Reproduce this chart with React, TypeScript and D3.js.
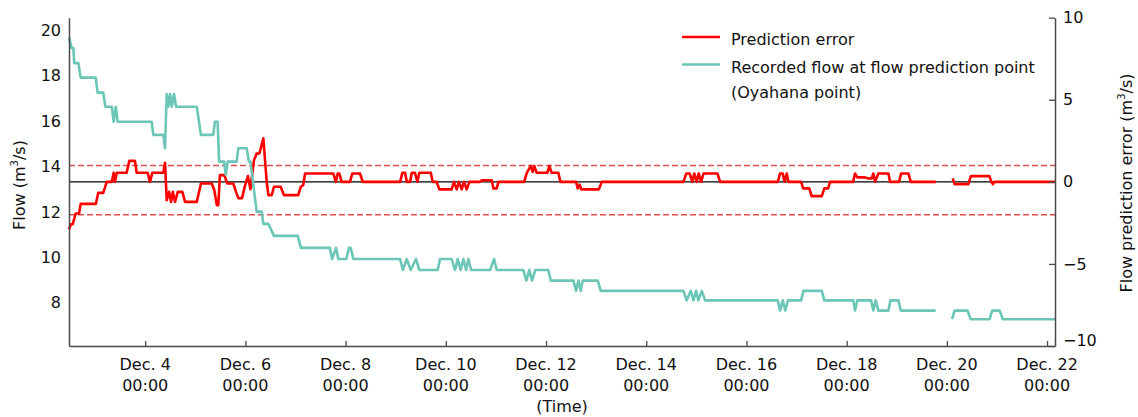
import { useEffect, useRef } from "react";
import * as d3 from "d3";

// hours counted from the first record (Dec. 2, about 11:30)
const flowHours = [
  0, 1.3, 2.1, 2.5, 4.5, 5.6, 12.8, 13.7, 16.4, 17.4, 20.5, 21.4, 22.4, 23.3,
  39.6, 40.4, 45.2, 46.0, 46.8, 47.6, 48.4, 49.2, 50.3, 51.3, 61.2, 63.2, 69.1,
  69.9, 71.2, 71.9, 74.3, 75.1, 76.0, 80.3, 81.1, 85.1, 86.2, 86.9, 89.9, 92.3,
  93.1, 95.5, 98.2, 109.6, 111.1, 125.0, 126.0, 127.9, 129.0, 132.8, 134.1,
  134.9, 136.2, 158.6, 159.9, 161.8, 163.7, 166.2, 167.8, 176.6, 177.7, 183.3,
  184.9, 186.2, 187.6, 188.9, 190.2, 191.3, 192.6, 201.7, 203.6, 204.9, 217.6,
  219.1, 220.5, 221.8, 223.4, 229.6, 230.8, 241.6, 242.9, 244.0, 245.1, 246.1,
  253.3, 254.7, 294.3, 295.9, 297.8, 299.1, 300.4, 301.5, 303.1, 304.7, 339.5,
  340.6, 341.9, 343.1, 344.4, 350.7, 351.8, 360.6, 361.8, 375.7, 376.5, 377.6,
  384.2, 385.3, 386.4, 387.7, 392.5, 393.5, 397.3, 398.4, 415.1, 419, 423.0,
  424.2, 430.4, 431.9, 441.0, 442.2, 445.8, 447.3, 472.3,
];
const flowValues = [
  19.68, 19.22, 19.22, 18.56, 18.56, 17.92, 17.92, 17.26, 17.26, 16.64, 16.64,
  15.98, 16.64, 15.98, 15.98, 15.4, 15.4, 14.81, 17.2, 16.64, 17.2, 16.64, 17.2,
  16.64, 16.64, 15.4, 15.4, 15.98, 15.98, 14.22, 14.22, 13.64, 14.22, 14.22,
  14.81, 14.81, 14.22, 14.22, 12.02, 12.02, 11.48, 11.48, 10.95, 10.95, 10.42,
  10.42, 9.93, 10.42, 9.93, 9.93, 10.42, 10.42, 9.93, 9.93, 9.45, 9.93, 9.45,
  9.93, 9.45, 9.45, 9.93, 9.93, 9.45, 9.93, 9.45, 9.93, 9.45, 9.93, 9.45, 9.45,
  9.93, 9.45, 9.45, 8.98, 9.45, 8.98, 9.45, 9.45, 8.98, 8.98, 8.53, 8.98, 8.53,
  8.98, 8.98, 8.53, 8.53, 8.11, 8.53, 8.11, 8.53, 8.11, 8.53, 8.11, 8.11, 7.66,
  8.11, 7.66, 8.11, 8.11, 8.53, 8.53, 8.11, 8.11, 7.66, 8.11, 8.11, 7.66, 8.11,
  7.66, 7.66, 8.11, 8.11, 7.66, 7.66, NaN, 7.28, 7.66, 7.66, 7.28, 7.28, 7.66,
  7.66, 7.28, 7.28,
];

const errorHours = [
  0, 0.9, 1.8, 3.2, 4.8, 5.6, 12.9, 14.0, 16.4, 18.1, 20.5, 21.4, 22.0, 22.9,
  27.6, 28.9, 31.6, 32.4, 37.7, 38.8, 39.9, 45.2, 46.0, 46.8, 47.9, 48.9, 49.7,
  50.8, 52.1, 54.3, 55.6, 61.2, 63.2, 68.4, 69.6, 70.8, 71.5, 72.3, 74.4, 75.8,
  78.7, 80.0, 81.1, 82.9, 84.1, 85.7, 86.9, 88.6, 89.9, 91.2, 93.1, 94.7, 95.5,
  97.1, 98.2, 101.4, 103.0, 109.8, 111.0, 112.2, 113.1, 126.6, 127.8, 128.7,
  129.5, 130.6, 134.6, 135.7, 139.4, 140.7, 158.6, 159.7, 161.0, 161.8, 163.4,
  164.2, 165.7, 166.9, 167.8, 173.3, 174.2, 176.1, 177.4, 183.3, 184.4, 185.7,
  186.8, 188.1, 189.2, 190.5, 191.8, 196.9, 197.7, 202.5, 203.3, 204.9, 205.7,
  218.0, 219.3, 220.5, 221.2, 222.1, 222.9, 224.0, 229.1, 230.1, 231.2, 234.4,
  235.4, 242.9, 243.7, 244.6, 245.4, 253.8, 255.2, 294.3, 295.7, 297.3, 298.6,
  299.5, 300.7, 301.6, 302.8, 303.9, 310.6, 311.9, 339.5, 340.6, 341.9, 342.7,
  343.8, 344.6, 350.7, 351.7, 354.6, 355.7, 360.6, 361.8, 363.6, 364.6, 375.6,
  376.5, 377.6, 381.3, 382.9, 384.5, 385.3, 386.1, 387.7, 392.5, 393.3, 397.6,
  398.6, 402.1, 403.2, 415.2, 419, 423.3, 424.2, 430.8, 432.0, 440.9, 441.8,
  442.6, 443.3, 472.3,
];
const errorValues = [
  -2.9, -2.58, -2.58, -1.93, -1.93, -1.34, -1.34, -0.67, -0.67, 0, 0, 0.55, 0,
  0.55, 0.55, 1.28, 1.28, 0.55, 0.55, 0, 0.55, 0.55, 1.16, -1.12, -0.61, -1.22,
  -0.61, -1.22, -0.61, -0.61, -1.22, -1.22, -0.1, -0.1, -0.51, -1.42, -1.42,
  0.41, 0.41, -0.1, -0.1, -0.61, -0.99, -0.99, -0.32, 0.35, -0.45, 1.32, 1.73,
  1.73, 2.65, 0, -0.81, -0.81, -0.3, -0.3, -0.81, -0.81, -0.3, -0.2, 0.51,
  0.51, 0, 0.51, 0.51, 0, 0, 0.51, 0.51, 0, 0, 0.55, 0.55, 0, 0, 0.55, 0.55, 0,
  0.55, 0.55, 0, 0, -0.46, -0.46, 0, -0.46, 0, -0.46, 0, -0.46, 0, 0, 0.1, 0.1,
  -0.4, -0.4, 0, 0, 0.55, 0.82, 0.96, 0.61, 0.96, 0.55, 0.55, 0.96, 0.55, 0.55,
  0, 0, -0.4, -0.17, -0.46, -0.46, 0, 0, 0.51, 0.51, 0, 0.51, 0, 0.51, 0, 0.51,
  0.51, 0, 0, 0.51, 0.51, 0, 0.51, 0, 0, -0.4, -0.4, -0.87, -0.87, -0.4, -0.4,
  0, 0, 0.51, 0.27, 0.27, 0.21, 0.21, 0.51, 0, 0.51, 0.51, 0, 0, 0.51, 0.51, 0,
  0, NaN, 0.21, -0.14, -0.14, 0.35, 0.35, 0, -0.14, 0, 0,
];

const tickDays = [4, 6, 8, 10, 12, 14, 16, 18, 20, 22];
const flowTicks = [8, 10, 12, 14, 16, 18, 20];
const errorTicks = [-10, -5, 0, 5, 10];
const errorLimits = [1, -2];

const RED = "#ff0000";
const TEAL = "#6cc6b8";
const FONT = "DejaVu Sans, sans-serif";

interface Pt {
  t: Date;
  v: number;
}

export default function App() {
  const svgRef = useRef<SVGSVGElement>(null);

  useEffect(() => {
    if (!svgRef.current) return;
    const svg = d3.select(svgRef.current);
    svg.selectAll("*").remove();

    const width = 1138;
    const height = 417;
    const margin = { top: 17.7, right: 83, bottom: 71, left: 69 };
    const chartW = width - margin.left - margin.right;
    const chartH = height - margin.top - margin.bottom;

    const t0 = new Date(2019, 11, 2, 11, 30).getTime();
    const toDate = (h: number) => new Date(t0 + h * 3600e3);

    const x = d3.scaleTime().domain([toDate(0), toDate(472.3)]).range([0, chartW]);
    const yFlow = d3.scaleLinear().domain([6.1, 20.56]).range([chartH, 0]);
    const yErr = d3.scaleLinear().domain([-10, 10]).range([chartH, 0]);

    const flow: Pt[] = flowHours.map((h, i) => ({ t: toDate(h), v: flowValues[i] }));
    const err: Pt[] = errorHours.map((h, i) => ({ t: toDate(h), v: errorValues[i] }));

    const g = svg
      .append("g")
      .attr("transform", `translate(${margin.left},${margin.top})`);

    // zero line and limits
    g.append("line")
      .attr("x1", 0)
      .attr("x2", chartW)
      .attr("y1", yErr(0))
      .attr("y2", yErr(0))
      .attr("stroke", "#000")
      .attr("stroke-width", 1.3);

    g.selectAll(".limit")
      .data(errorLimits)
      .join("line")
      .attr("x1", 0)
      .attr("x2", chartW)
      .attr("y1", (d) => yErr(d))
      .attr("y2", (d) => yErr(d))
      .attr("stroke", "#e04f4f")
      .attr("stroke-width", 1.5)
      .attr("stroke-dasharray", "6 3");

    const errLine = d3
      .line<Pt>()
      .defined((d) => !isNaN(d.v))
      .x((d) => x(d.t))
      .y((d) => yErr(d.v));

    const flowLine = d3
      .line<Pt>()
      .defined((d) => !isNaN(d.v))
      .x((d) => x(d.t))
      .y((d) => yFlow(d.v));

    g.append("path")
      .datum(err)
      .attr("d", errLine)
      .attr("fill", "none")
      .attr("stroke", RED)
      .attr("stroke-width", 2.6)
      .attr("stroke-linejoin", "round");

    g.append("path")
      .datum(flow)
      .attr("d", flowLine)
      .attr("fill", "none")
      .attr("stroke", TEAL)
      .attr("stroke-width", 2.6)
      .attr("stroke-linejoin", "round");

    const styleAxis = (a: d3.Selection<SVGGElement, unknown, null, undefined>) =>
      a
        .attr("color", "#4a4a4a")
        .attr("font-family", FONT)
        .attr("font-size", 16)
        .call((s) => s.select(".domain").attr("stroke-width", 1.5))
        .call((s) => s.selectAll(".tick line").attr("stroke-width", 1.3))
        .call((s) => s.selectAll(".tick text").attr("fill", "#111"));

    // X axis
    const tickDates = tickDays.map((d) => new Date(2019, 11, d));
    g.append("g")
      .attr("transform", `translate(0,${chartH})`)
      .call(
        d3
          .axisBottom(x)
          .tickValues(tickDates)
          .tickSizeInner(-5)
          .tickSizeOuter(0)
          .tickFormat(() => ""),
      )
      .call(styleAxis);

    const xl = g
      .append("g")
      .attr("font-family", FONT)
      .attr("font-size", 16)
      .attr("fill", "#111")
      .attr("text-anchor", "middle")
      .selectAll("text")
      .data(tickDays)
      .join("text")
      .attr("x", (d) => x(new Date(2019, 11, d)));
    xl.append("tspan")
      .attr("y", chartH + 24.5)
      .text((d) => `Dec. ${d}`);
    xl.append("tspan")
      .attr("x", (d) => x(new Date(2019, 11, d)))
      .attr("y", chartH + 45)
      .text("00:00");

    g.append("text")
      .attr("x", chartW / 2)
      .attr("y", chartH + 66)
      .attr("text-anchor", "middle")
      .attr("font-family", FONT)
      .attr("font-size", 16)
      .attr("fill", "#111")
      .text("(Time)");

    // Left axis
    g.append("g")
      .call(d3.axisLeft(yFlow).tickValues(flowTicks).tickSize(0).tickPadding(8))
      .call(styleAxis);

    // Right axis
    g.append("g")
      .attr("transform", `translate(${chartW},0)`)
      .call(
        d3
          .axisRight(yErr)
          .tickValues(errorTicks)
          .tickSizeInner(-6)
          .tickSizeOuter(0)
          .tickPadding(8),
      )
      .call(styleAxis)
      .call((s) =>
        s
          .selectAll<SVGTextElement, number>(".tick text")
          .filter((d) => d === -10)
          .attr("dy", "-0.05em"),
      );

    // Axis titles
    const title = (tx: number, ty: number, label: string) => {
      const t = svg
        .append("text")
        .attr("transform", `translate(${tx},${ty}) rotate(-90)`)
        .attr("text-anchor", "middle")
        .attr("font-family", FONT)
        .attr("font-size", 16)
        .attr("fill", "#111");
      t.append("tspan").text(`${label} (m`);
      t.append("tspan").attr("font-size", 10).attr("dy", -7).text("3");
      t.append("tspan").attr("dy", 7).text("/s)");
    };
    title(25, 185, "Flow");
    title(1132, 183, "Flow prediction error");

    // Legend
    const legend = svg.append("g").attr("font-family", FONT).attr("font-size", 16).attr("fill", "#111");
    legend
      .append("line")
      .attr("x1", 682)
      .attr("x2", 720)
      .attr("y1", 37)
      .attr("y2", 37)
      .attr("stroke", RED)
      .attr("stroke-width", 2.6);
    legend.append("text").attr("x", 731).attr("y", 45).text("Prediction error");
    legend
      .append("line")
      .attr("x1", 682)
      .attr("x2", 720)
      .attr("y1", 64.5)
      .attr("y2", 64.5)
      .attr("stroke", TEAL)
      .attr("stroke-width", 2.6);
    legend
      .append("text")
      .attr("x", 731)
      .attr("y", 73)
      .text("Recorded flow at flow prediction point");
    legend.append("text").attr("x", 731).attr("y", 97.5).text("(Oyahana point)");
  }, []);

  return (
    <svg
      ref={svgRef}
      width={1138}
      height={417}
      style={{ position: "absolute", left: 0, top: 0, background: "#fff" }}
      role="img"
      aria-label="Prediction error and recorded flow at Oyahana point"
    />
  );
}
